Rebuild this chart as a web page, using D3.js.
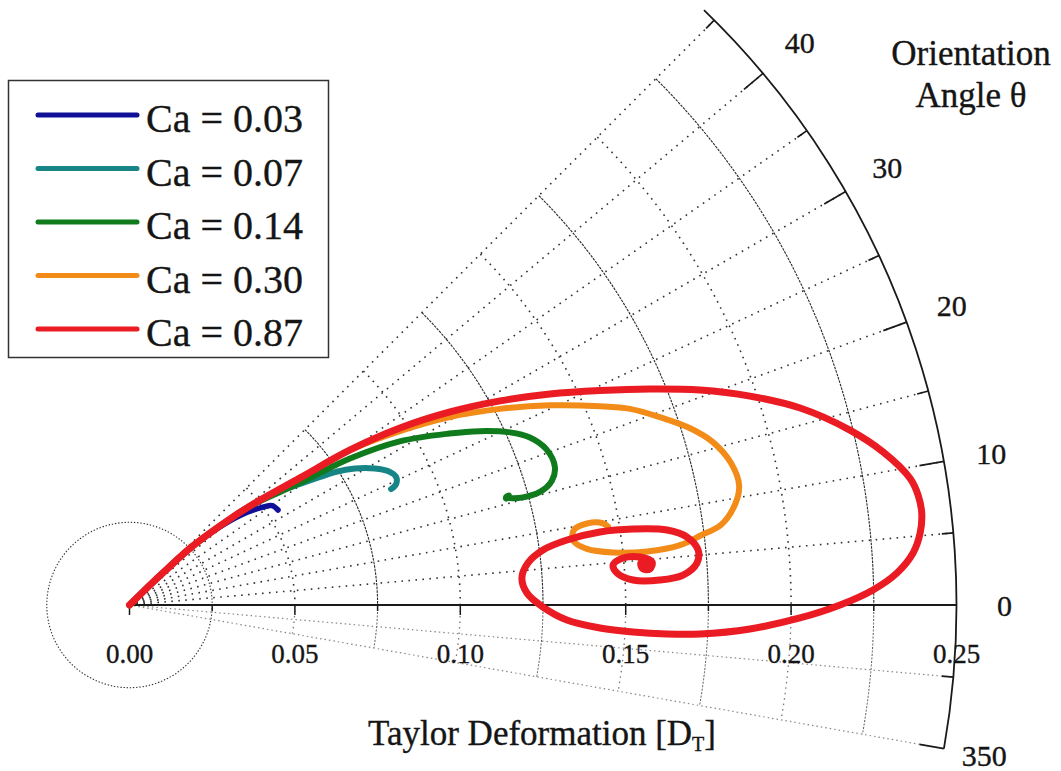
<!DOCTYPE html>
<html>
<head>
<meta charset="utf-8">
<script src="https://cdn.jsdelivr.net/npm/d3@7"></script>
<style>
  body { margin: 0; background: #fff; }
  svg { display: block; }
  text { font-family: "Liberation Serif", "Times New Roman", serif; fill: #151515; stroke: #151515; stroke-width: 0.35px; }
</style>
</head>
<body>
<svg id="chart" width="1061" height="771"></svg>
<script>
// Trajectories in (Taylor deformation D_T, orientation angle θ in degrees)
const seriesNames = ["Ca = 0.03", "Ca = 0.07", "Ca = 0.14", "Ca = 0.30", "Ca = 0.87"];
const seriesColors = ["#0f0f98", "#178585", "#0f7b1d", "#f28b17", "#ea1b23"];
const seriesWidths = [5.5, 6, 6, 6, 7];

const ca003 = [[0, 45], [0.005, 44.5], [0.015, 43.8], [0.026, 43.0], [0.0361, 40.8], [0.0430, 39.0],
  [0.0492, 36.6], [0.0525, 34.9], [0.0533, 32.6]];

const ca007 = [[0, 45], [0.005, 44.5], [0.015, 43.8], [0.026, 43.0], [0.0411, 40.4], [0.0472, 39.4],
  [0.0571, 37.1], [0.0632, 35.4], [0.0694, 33.9], [0.0740, 32.9], [0.0797, 31.2], [0.0849, 29.1],
  [0.0880, 27.4], [0.0894, 25.7], [0.0885, 24.4], [0.0865, 23.9]];

const ca014 = [[0, 45], [0.005, 44.5], [0.015, 43.8], [0.026, 43.0], [0.0411, 40.4], [0.0472, 39.4],
  [0.0634, 35.6], [0.0800, 33.6], [0.0955, 31.2], [0.1097, 28.2], [0.1182, 26.4], [0.1263, 24.4],
  [0.1312, 22.7], [0.1345, 20.5], [0.1352, 18.0], [0.1331, 16.4], [0.1287, 15.4], [0.1233, 15.3],
  [0.1195, 15.7], [0.1184, 16.0], [0.1194, 16.1], [0.1183, 15.8]];

const ca030 = [[0, 45], [0.005, 44.5], [0.015, 43.8], [0.026, 43.0], [0.0411, 40.4], [0.0472, 39.4],
  [0.0643, 36.7], [0.0815, 35.1], [0.0972, 32.75], [0.1123, 30.4], [0.1267, 27.9], [0.1407, 25.4],
  [0.1544, 22.9], [0.1625, 21.4], [0.1701, 19.5], [0.1777, 17.5], [0.1831, 15.6], [0.1868, 13.3],
  [0.1878, 11.1], [0.1855, 9.4], [0.1804, 7.7], [0.1744, 7.0], [0.1674, 6.2], [0.1573, 5.9],
  [0.1470, 6.2], [0.1393, 7.0], [0.1355, 8.3], [0.1363, 9.6], [0.1405, 10.1], [0.1452, 9.8],
  [0.1466, 9.3]];

const ca087 = [[0, 45], [0.005, 44.5], [0.015, 43.8], [0.026, 43.0], [0.0411, 40.4], [0.0472, 39.4],
  [0.0643, 36.7], [0.0815, 35.1], [0.0977, 33.2], [0.1131, 31.06], [0.1279, 28.84], [0.1422, 26.65],
  [0.1563, 24.51], [0.1704, 22.54], [0.1843, 20.65], [0.1979, 18.61], [0.2113, 16.37], [0.2241, 13.65],
  [0.2324, 11.5], [0.2390, 9.24], [0.2407, 7.94], [0.2411, 6.62], [0.2400, 5.2], [0.2374, 3.8],
  [0.2322, 2.39], [0.2248, 1.16], [0.2148, 0], [0.2027, -1.11], [0.1877, -2.21], [0.1727, -2.91],
  [0.1627, -3.09], [0.1524, -3.07], [0.1424, -2.80], [0.1323, -1.96], [0.1250, -0.28], [0.1202, 1.73],
  [0.1189, 3.94], [0.1211, 6.02], [0.1261, 7.58], [0.1337, 8.45], [0.1439, 8.82], [0.1539, 8.58],
  [0.1641, 7.94], [0.1698, 6.95], [0.1727, 5.53], [0.1720, 4.23], [0.1676, 3.10], [0.1605, 2.70],
  [0.1524, 2.84], [0.1477, 3.76], [0.1467, 4.73], [0.1499, 5.44], [0.1550, 5.37], [0.1585, 4.70],
  [0.1577, 3.96], [0.1556, 4.01], [0.1551, 4.69], [0.1570, 4.97], [0.1581, 4.39], [0.1568, 4.09],
  [0.1560, 4.45], [0.1570, 4.64], [0.1572, 4.36]];

const seriesData = [ca003, ca007, ca014, ca030, ca087];

// Axes
const deformationTicks = [0, 0.05, 0.10, 0.15, 0.20, 0.25];
const gridRadii = [0.025, 0.05, 0.075, 0.1, 0.125, 0.15, 0.175, 0.2, 0.225];
const angleTicks = [40, 30, 20, 10, 0, -10];
const angleTickText = ["40", "30", "20", "10", "0", "350"];
const gridAngles = [-10, -5, 0, 5, 10, 15, 20, 25, 30, 35, 40, 45];
const angleMin = -10, angleMax = 45;

const svg = d3.select("#chart");
const cx = 129.5, cy = 605;
const r = d3.scaleLinear().domain([0, 0.25]).range([0, 827]);
const rad = d => d * Math.PI / 180;
const px = (D, th) => [r(D) * Math.cos(rad(th)), -r(D) * Math.sin(rad(th))];

const g = svg.append("g").attr("transform", `translate(${cx},${cy})`);

function arcPath(radius, a0, a1) {
  const p = d3.path();
  p.arc(0, 0, radius, -rad(a1), -rad(a0), false);
  return p.toString();
}

// small dotted circle around the origin
g.append("circle").attr("r", r(0.025))
  .attr("fill", "none").attr("stroke", "#333").attr("stroke-width", 1.1)
  .attr("stroke-dasharray", "1.4,1.8");

// grid arcs
gridRadii.forEach(v => {
  const odd = Math.round(v / 0.025) % 2 === 1;
  if (v === 0.025) return;
  g.append("path").attr("d", arcPath(r(v), 0, angleMax))
    .attr("fill", "none")
    .attr("stroke", odd ? "#2a2a2a" : "#333")
    .attr("stroke-width", odd ? 1.1 : 1.6)
    .attr("stroke-dasharray", odd ? "2.6,1" : "1.6,5.2");
  g.append("path").attr("d", arcPath(r(v), angleMin, 0))
    .attr("fill", "none")
    .attr("stroke", odd ? "#555" : "#777")
    .attr("stroke-width", odd ? 1 : 1.3)
    .attr("stroke-dasharray", odd ? "2,1.5" : "1.5,4");
});

// radial dotted lines
gridAngles.forEach(a => {
  if (a === 0) return;
  const [x2, y2] = px(0.25, a);
  g.append("line").attr("x1", 0).attr("y1", 0).attr("x2", x2).attr("y2", y2)
    .attr("stroke", a < 0 ? "#888" : "#333")
    .attr("stroke-width", a < 0 ? 1.2 : 1.6)
    .attr("stroke-dasharray", a < 0 ? "1.5,3" : "1.6,5.4");
});

// outer boundary arc with angle ticks
g.append("path").attr("d", arcPath(r(0.25), angleMin, angleMax + 1))
  .attr("fill", "none").attr("stroke", "#1a1a1a").attr("stroke-width", 1.8);
gridAngles.forEach(a => {
  if (a === 0) return;
  const len = a % 10 === 0 ? 0.0075 : 0.0035;
  const [x1, y1] = px(0.25, a), [x2, y2] = px(0.25 - len, a);
  g.append("line").attr("x1", x1).attr("y1", y1).attr("x2", x2).attr("y2", y2)
    .attr("stroke", "#1a1a1a").attr("stroke-width", 1.7);
});

// deformation axis along θ = 0
g.append("line").attr("x1", 0).attr("y1", 0).attr("x2", r(0.25)).attr("y2", 0)
  .attr("stroke", "#1a1a1a").attr("stroke-width", 1.8);
d3.range(0, 10).forEach(i => {
  const v = i * 0.025;
  g.append("line").attr("x1", r(v)).attr("x2", r(v)).attr("y1", 0).attr("y2", i % 2 === 0 ? 10 : 6)
    .attr("stroke", "#1a1a1a").attr("stroke-width", 1.5);
});
g.selectAll("text.dt").data(deformationTicks).join("text")
  .attr("class", "dt")
  .attr("x", d => r(d)).attr("y", 58)
  .attr("text-anchor", "middle")
  .style("font-size", "27px")
  .text(d => d3.format(".2f")(d));

// angle labels
g.selectAll("text.ang").data(angleTicks).join("text")
  .attr("class", "ang")
  .attr("x", d => (d < 0 ? 868 : 875) * Math.cos(rad(d)))
  .attr("y", d => -(d < 0 ? 868 : 875) * Math.sin(rad(d)))
  .attr("text-anchor", "middle")
  .attr("dominant-baseline", "central")
  .style("font-size", "30px")
  .text((d, i) => angleTickText[i]);

// trajectories
const line = d3.lineRadial()
  .angle(d => rad(90 - d[1]))
  .radius(d => r(d[0]))
  .curve(d3.curveCatmullRom.alpha(0.5));

seriesData.forEach((data, i) => {
  g.append("path").datum(data)
    .attr("d", line)
    .attr("fill", "none")
    .attr("stroke", seriesColors[i])
    .attr("stroke-width", seriesWidths[i])
    .attr("stroke-linecap", "round")
    .attr("stroke-linejoin", "round");
});

// axis titles
svg.append("text").attr("x", 971).attr("y", 65).attr("text-anchor", "middle")
  .style("font-size", "35px").text("Orientation");
svg.append("text").attr("x", 971).attr("y", 107).attr("text-anchor", "middle")
  .style("font-size", "35px").text("Angle θ");
const xt = svg.append("text").attr("x", 542).attr("y", 745).attr("text-anchor", "middle")
  .style("font-size", "35px");
xt.append("tspan").text("Taylor Deformation [D");
xt.append("tspan").attr("dy", 6).style("font-size", "20px").text("T");
xt.append("tspan").attr("dy", -6).text("]");

// legend
const lg = svg.append("g");
lg.append("rect").attr("x", 8.5).attr("y", 80.5).attr("width", 320).attr("height", 277)
  .attr("fill", "#fff").attr("stroke", "#333").attr("stroke-width", 1.5);
seriesNames.forEach((name, i) => {
  const y = 115 + i * 53.5;
  lg.append("line").attr("x1", 38).attr("x2", 137).attr("y1", y).attr("y2", y)
    .attr("stroke", seriesColors[i]).attr("stroke-width", 5).attr("stroke-linecap", "round");
  lg.append("text").attr("x", 146).attr("y", y + 17)
    .style("font-size", "40px").text(name);
});
</script>
</body>
</html>
